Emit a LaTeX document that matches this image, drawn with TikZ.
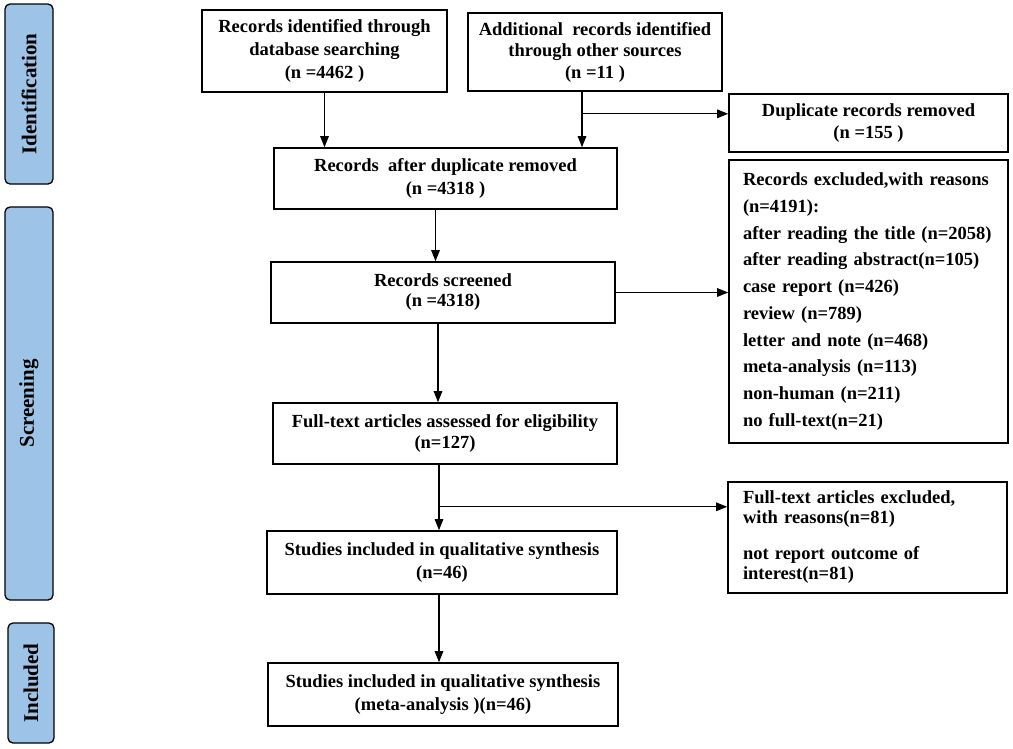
\documentclass[tikz,border=0pt]{standalone}
\usepackage{fontspec}
\setmainfont{Liberation Serif}
\usetikzlibrary{arrows.meta}
\definecolor{bandblue}{RGB}{157,195,230}

\begin{document}
\begin{tikzpicture}[x=1pt,y=-1pt,
  box/.style={draw, line width=1.6pt, inner sep=0pt, align=center,
              font=\bfseries\fontsize{18.5}{22}\selectfont},
  band/.style={draw, line width=1.3pt, rounded corners=5pt, fill=bandblue,
               inner sep=0pt, rotate=90, font=\bfseries\fontsize{21}{24}\selectfont},
  arr/.style={line width=1.3pt, -{Triangle[length=11pt,width=8.5pt]}}]
%\draw [help lines] (0,0) grid (1013,748);
\useasboundingbox (0,0) rectangle (1013,748);

% stage bands on the left
\node [band, minimum width=180, minimum height=48] (ident) at (29,94) {Identification};
\node [band, minimum width=393, minimum height=48] (screening) at (29,403.5) {Screening};
\node [band, minimum width=120, minimum height=46] (incl) at (31,683) {Included};

% identification
\node [box, minimum width=245, minimum height=82, font=\bfseries\fontsize{18.5}{23}\selectfont]
  (db) at (324.5,51) {Records identified through\\database searching\\(n =4462 )};
\node [box, minimum width=254, minimum height=78, font=\bfseries\fontsize{18.5}{21.5}\selectfont]
  (add) at (595,52) {Additional\ \ records identified\\through other sources\\(n =11 )};
\node [box, minimum width=279, minimum height=58] (dup) at (868.5,123) {Duplicate records removed\\(n =155 )};

% screening
\node [box, minimum width=343, minimum height=61, font=\bfseries\fontsize{18.5}{23}\selectfont]
  (after) at (445.5,178.5) {Records\ \ after duplicate removed\\(n =4318 )};
\node [box, minimum width=344, minimum height=61, font=\bfseries\fontsize{18.5}{20}\selectfont]
  (screen) at (443,292.5) {Records screened\\(n =4318)};
\node [box, align=left, text width=251, inner xsep=14, minimum height=283,
       font=\bfseries\fontsize{18.5}{26.7}\selectfont] (excl) at (868.5,301.5)
  {Records excluded,with reasons\\(n=4191):\\after reading the title (n=2058)\\after reading abstract(n=105)\\
   case report (n=426)\\review (n=789)\\letter and note (n=468)\\meta-analysis (n=113)\\
   non-human (n=211)\\no full-text(n=21)};
\node [box, minimum width=344, minimum height=61, font=\bfseries\fontsize{18.5}{21}\selectfont]
  (full) at (445,433.5) {Full-text articles assessed for eligibility\\(n=127)};
\node [box, align=left, text width=249, inner xsep=15, minimum height=111,
       font=\bfseries\fontsize{18.5}{20}\selectfont] (fex) at (867.5,537.5)
  {Full-text articles excluded,\\with reasons(n=81)\\[16pt]not report outcome of\\interest(n=81)};
\node [box, minimum width=350, minimum height=63, font=\bfseries\fontsize{18.5}{23}\selectfont]
  (qual) at (442,562.5) {Studies included in qualitative synthesis\\(n=46)};

% included
\node [box, minimum width=350, minimum height=63, font=\bfseries\fontsize{18.5}{23}\selectfont]
  (meta) at (443,694.5) {Studies included in qualitative synthesis\\(meta-analysis )(n=46)};

% arrows
\draw [arr] (db.south) -- (db.south |- after.north);
\coordinate (addfoot) at ([xshift=-13pt]add.south);
\draw [arr] (addfoot) -- (addfoot |- after.north);
\coordinate (dupturn) at ([yshift=-22pt]addfoot);
\draw [arr] (dupturn) -- (dupturn -| dup.west);
\coordinate (afterfoot) at ([xshift=-10pt]after.south);
\draw [arr] (afterfoot) -- (afterfoot |- screen.north);
\draw [arr] (screen.east) -- (screen.east -| excl.west);
\coordinate (screenfoot) at ([xshift=-5pt]screen.south);
\draw [arr] (screenfoot) -- (screenfoot |- full.north);
\coordinate (fullfoot) at ([xshift=-6pt]full.south);
\draw [arr] (fullfoot) -- (fullfoot |- qual.north);
\coordinate (fexturn) at ([yshift=-42pt]fullfoot);
\draw [arr] (fexturn) -- (fexturn -| fex.west);
\coordinate (qualfoot) at ([xshift=-3pt]qual.south);
\draw [arr] (qualfoot) -- (qualfoot |- meta.north);

\end{tikzpicture}
\end{document}
